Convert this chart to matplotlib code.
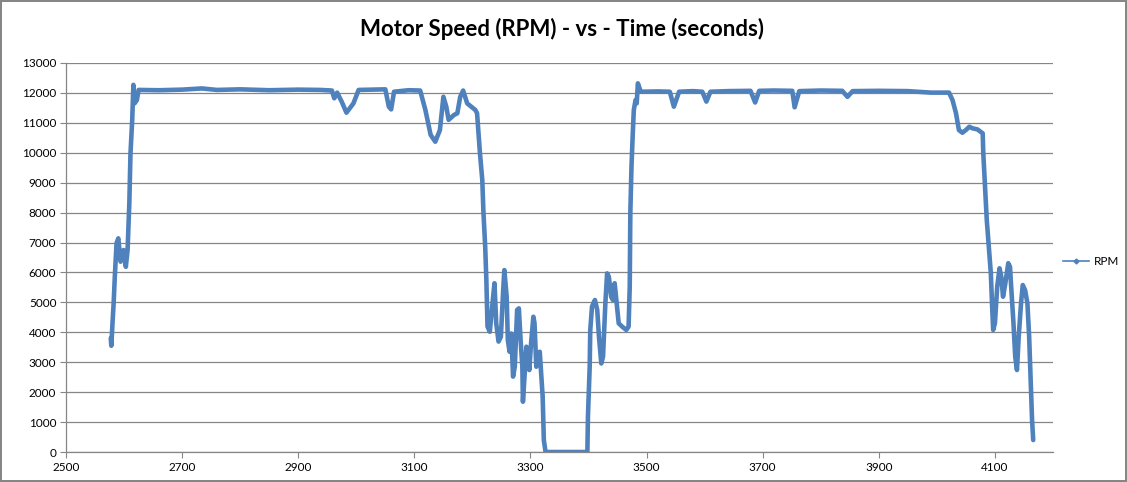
import matplotlib
matplotlib.use("Agg")
import matplotlib.pyplot as plt
from matplotlib.lines import Line2D

# time (s) and motor speed (rpm)
time_s = [2577, 2578, 2580, 2582, 2584, 2587, 2590, 2594, 2599, 2603, 2606,
          2609, 2611, 2614, 2616, 2618, 2622, 2625, 2660, 2700, 2734, 2760,
          2800, 2850, 2900, 2938, 2958, 2962, 2967, 2975, 2983, 2995, 3004,
          3030, 3050, 3056, 3060, 3065, 3090, 3110, 3119, 3128, 3136, 3144,
          3150, 3155, 3159, 3168, 3174, 3179, 3184, 3191, 3205, 3208, 3213,
          3217, 3219, 3222, 3224, 3226, 3230, 3234, 3238, 3241, 3245, 3249,
          3253, 3255, 3259, 3261, 3264, 3267, 3270, 3273, 3277, 3280, 3283,
          3286, 3287, 3290, 3293, 3295, 3298, 3301, 3305, 3307, 3310, 3313,
          3316, 3318, 3321, 3323, 3326, 3360, 3398, 3399, 3402, 3403, 3406,
          3411, 3415, 3418, 3422, 3425, 3429, 3432, 3435, 3439, 3442, 3445,
          3448, 3452, 3458, 3465, 3469, 3471, 3472, 3474, 3476, 3478, 3481,
          3483, 3485, 3490, 3520, 3540, 3547, 3556, 3580, 3596, 3603, 3610,
          3640, 3679, 3687, 3694, 3720, 3751, 3755, 3763, 3800, 3837, 3846,
          3855, 3900, 3950, 3990, 4021, 4027, 4033, 4038, 4044, 4050, 4056,
          4061, 4070, 4079, 4080, 4083, 4086, 4090, 4093, 4095, 4097, 4100,
          4104, 4108, 4111, 4114, 4118, 4123, 4126, 4128, 4132, 4135, 4138,
          4141, 4145, 4148, 4152, 4156, 4159, 4162, 4164, 4166]
rpm = [3800, 3550, 4300, 4970, 5860, 6975, 7140, 6360, 6750, 6190, 6750,
       8310, 9980, 11100, 12270, 11650, 11760, 12100, 12090, 12110, 12150, 12100,
       12120, 12090, 12110, 12100, 12080, 11820, 12010, 11700, 11340, 11650, 12100,
       12110, 12120, 11540, 11450, 12040, 12090, 12080, 11430, 10600, 10370, 10760,
       11870, 11540, 11100, 11260, 11320, 11870, 12080, 11650, 11430, 11320, 9980,
       9090, 8000, 6860, 5750, 4190, 4020, 4860, 5640, 4300, 3690, 3850,
       5410, 6080, 5190, 3740, 3350, 3960, 2520, 2850, 4750, 4800, 3740,
       2850, 1680, 2630, 3520, 3190, 2740, 3630, 4520, 4300, 2850, 3300,
       3350, 2740, 1850, 400, 0, 0, 0, 1180, 2850, 4080, 4860,
       5080, 4750, 3850, 2960, 3190, 4970, 5970, 5860, 5190, 5080, 5640,
       5080, 4300, 4190, 4080, 4190, 5530, 7980, 9540, 10540, 11430, 11760,
       11650, 12320, 12040, 12050, 12040, 11540, 12040, 12060, 12040, 11710, 12040,
       12060, 12070, 11680, 12070, 12080, 12070, 11520, 12060, 12080, 12070, 11870,
       12060, 12070, 12060, 12010, 12010, 11760, 11320, 10760, 10670, 10760, 10870,
       10820, 10780, 10650, 9980, 8870, 7750, 6750, 5970, 4970, 4080, 4300,
       5530, 6140, 5860, 5190, 5640, 6310, 6190, 5530, 4300, 3190, 2740,
       3850, 4970, 5580, 5410, 4970, 3850, 2180, 1070, 400]

x_ticks = list(range(2500, 4101, 200))
y_ticks = list(range(0, 13001, 1000))

blue = '#4F81BD'
grey = '#868686'

plt.rcParams['font.family'] = ['Lato', 'DejaVu Sans']

fig = plt.figure(figsize=(11.27, 4.82), dpi=100)
fig.patch.set_facecolor('white')
fig.patch.set_edgecolor(grey)
fig.patch.set_linewidth(1.5)
ax = fig.add_axes([0.0586, 0.0622, 0.8757, 0.8071])

ax.plot(time_s, rpm, color=blue, linewidth=3.3, solid_joinstyle='round',
        solid_capstyle='round')

ax.set_xlim(2500, 4200)
ax.set_ylim(0, 13000)
ax.set_xticks(x_ticks)
ax.set_yticks(y_ticks)
ax.tick_params(axis='both', labelsize=8.5, colors='black', length=4,
               width=0.8, direction='out', color=grey, pad=3)
ax.yaxis.grid(True, color=grey, linewidth=0.9)
ax.set_axisbelow(True)
for side in ['top', 'right']:
    ax.spines[side].set_visible(False)
for side in ['left', 'bottom']:
    ax.spines[side].set_color(grey)
    ax.spines[side].set_linewidth(0.9)

fig.text(0.499, 0.94, 'Motor Speed (RPM) - vs - Time (seconds)',
         ha='center', va='center', fontsize=16, fontweight='bold')

proxy = Line2D([], [], color=blue, linewidth=1.2, marker='D', markersize=2.5)
fig.legend([proxy], ['RPM'], loc='center left', bbox_to_anchor=(0.934, 0.458),
           frameon=False, fontsize=8.5, handlelength=2.2, handletextpad=0.4)

fig.savefig('out.png', dpi=100, facecolor=fig.get_facecolor(),
            edgecolor=fig.get_edgecolor())
